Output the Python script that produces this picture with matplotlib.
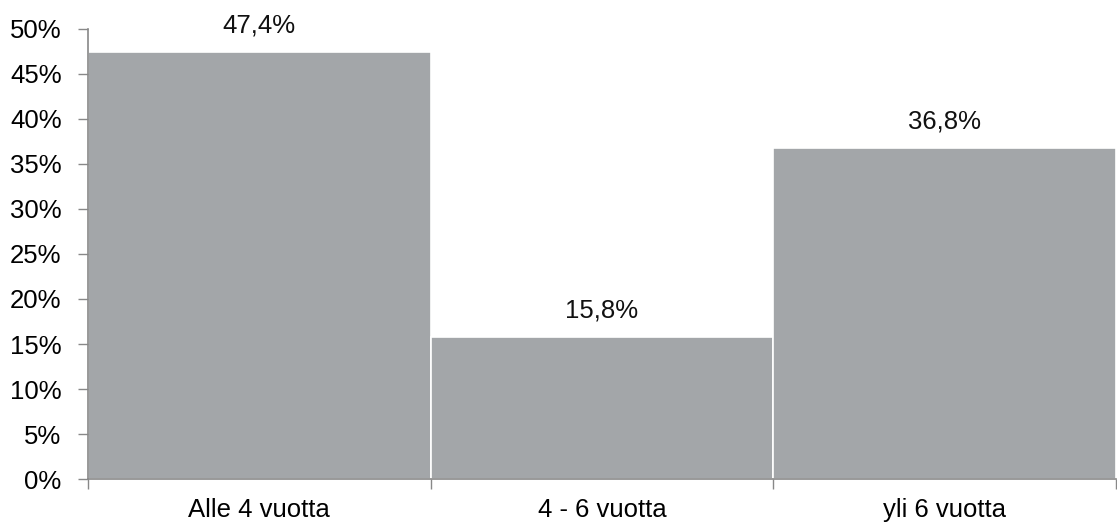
import matplotlib
matplotlib.use("Agg")
import matplotlib.pyplot as plt
import numpy as np

categories = ["Alle 4 vuotta", "4 - 6 vuotta", "yli 6 vuotta"]
values = [47.4, 15.8, 36.8]
value_labels = ["47,4%", "15,8%", "36,8%"]
yticks = [0, 5, 10, 15, 20, 25, 30, 35, 40, 45, 50]

plt.rcParams['font.family'] = ['Liberation Sans', 'DejaVu Sans']
FS = 18.5

fig = plt.figure(figsize=(11.17, 5.25), dpi=100)
ax = fig.add_axes([0.0788, 0.0876, 0.9203, 0.8572])

x = np.arange(len(categories))
ax.bar(x, values, width=1.0, color="#A3A6A9", edgecolor="white", linewidth=1.2)

for xi, v, lab in zip(x, values, value_labels):
    ax.text(xi, v + 1.6, lab, ha="center", va="bottom", fontsize=FS, color="#111111")

ax.set_xlim(-0.5, len(categories) - 0.5)
ax.set_ylim(0, 50)
ax.set_yticks(yticks)
ax.set_yticklabels([f"{t}%" for t in yticks], fontsize=FS)

# category labels centred, tick marks at category boundaries
ax.set_xticks(x)
ax.set_xticklabels(categories, fontsize=FS)
ax.tick_params(axis="x", which="major", length=0, pad=14)
ax.set_xticks(np.arange(len(categories) + 1) - 0.5, minor=True)
ax.tick_params(axis="x", which="minor", length=7, width=1, color="#888888", direction="out")
ax.tick_params(axis="y", length=7, width=1, color="#888888", direction="out", pad=12)

for side in ["top", "right"]:
    ax.spines[side].set_visible(False)
for side in ["left", "bottom"]:
    ax.spines[side].set_color("#888888")
    ax.spines[side].set_linewidth(1.2)

fig.savefig("out.png", dpi=100)
